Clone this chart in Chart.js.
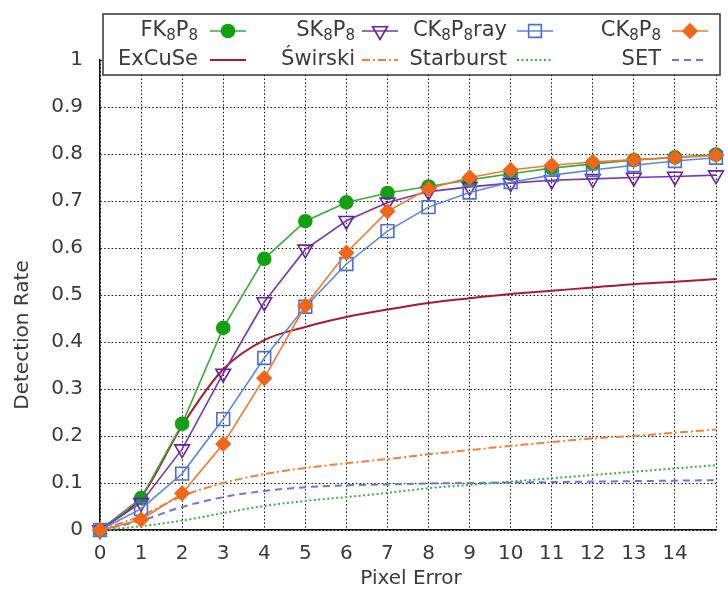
<!DOCTYPE html>
<html lang="en">
<head>
  <meta charset="utf-8" />
  <title>Detection Rate vs Pixel Error</title>
  <script src="https://cdn.jsdelivr.net/npm/chart.js"></script>
  <style>
    html, body { margin: 0; background: #fff; }
    #wrap { width: 728px; height: 590px; }
  </style>
</head>
<body>
  <div id="wrap"><canvas id="rate"></canvas></div>

  <script>
    // pixel error thresholds (x) and detection rate per method (y)
    const pixelError = [0, 1, 2, 3, 4, 5, 6, 7, 8, 9, 10, 11, 12, 13, 14, 15];
    const fk8p8     = [0, 0.068, 0.226, 0.430, 0.577, 0.657, 0.697, 0.717, 0.731, 0.745, 0.758, 0.770, 0.779, 0.787, 0.793, 0.799];
    const sk8p8     = [0, 0.058, 0.172, 0.333, 0.485, 0.597, 0.658, 0.697, 0.720, 0.730, 0.738, 0.744, 0.747, 0.750, 0.752, 0.755];
    const ck8p8ray  = [0, 0.045, 0.120, 0.236, 0.366, 0.475, 0.566, 0.636, 0.687, 0.718, 0.740, 0.755, 0.766, 0.776, 0.785, 0.792];
    const ck8p8     = [0, 0.022, 0.078, 0.183, 0.323, 0.477, 0.590, 0.678, 0.726, 0.750, 0.766, 0.776, 0.783, 0.788, 0.792, 0.797];
    const excuse    = [0, 0.070, 0.222, 0.342, 0.404, 0.432, 0.453, 0.469, 0.483, 0.493, 0.502, 0.509, 0.516, 0.523, 0.528, 0.534];
    const swirski   = [0, 0.030, 0.072, 0.100, 0.119, 0.132, 0.142, 0.151, 0.161, 0.170, 0.179, 0.187, 0.195, 0.200, 0.207, 0.214];
    const starburst = [0, 0.008, 0.020, 0.036, 0.051, 0.062, 0.070, 0.079, 0.089, 0.096, 0.103, 0.110, 0.117, 0.124, 0.131, 0.138];
    const setRate   = [0, 0.020, 0.049, 0.070, 0.083, 0.091, 0.095, 0.097, 0.099, 0.100, 0.101, 0.102, 0.103, 0.104, 0.105, 0.106];

    const FONT = '"DejaVu Sans", sans-serif';
    const pts = ys => pixelError.map((x, i) => ({ x, y: ys[i] }));

    // marker series are straight segments, plain curves are smoothed
    const series = [
      { label: 'FK_8P_8', data: fk8p8, line: '#38ad38', mark: '#13a013', style: 'circle', r: 6.5, fill: true, order: 4 },
      { label: 'SK_8P_8', data: sk8p8, line: '#7a35b0', mark: '#6a1fa6', style: 'triangle', rot: 180, r: 8.5, fill: false, order: 3 },
      { label: 'CK_8P_8ray', data: ck8p8ray, line: '#5b86e0', mark: '#4a6fd6', style: 'rect', r: 9, fill: false, order: 2 },
      { label: 'CK_8P_8', data: ck8p8, line: '#f07a30', mark: '#f0661a', style: 'rectRot', r: 7, fill: true, order: 1 },
      { label: 'ExCuSe', data: excuse, line: '#a51c30', width: 2, order: 5 },
      { label: 'Świrski', data: swirski, line: '#f0813a', width: 2, dash: [8, 3, 2, 3], order: 6 },
      { label: 'Starburst', data: starburst, line: '#3cb043', width: 2, dash: [2, 2.5], order: 7 },
      { label: 'SET', data: setRate, line: '#6678d8', width: 2, dash: [7, 5], order: 8 }
    ];

    const datasets = series.map(s => ({
      label: s.label,
      data: pts(s.data),
      order: s.order,
      borderColor: s.line,
      borderWidth: s.width || 1.6,
      borderDash: s.dash || [],
      cubicInterpolationMode: s.style ? 'default' : 'monotone',
      tension: 0,
      pointStyle: s.style || false,
      pointRotation: s.rot || 0,
      pointRadius: s.style ? s.r : 0,
      pointBorderColor: s.mark,
      pointBackgroundColor: s.fill ? s.mark : 'rgba(0,0,0,0)',
      pointBorderWidth: 1.6,
      clip: false
    }));

    // text with "_8" parts drawn as subscripts, right aligned at x
    function richText(ctx, text, xRight, y) {
      const parts = text.split(/(_\d)/).filter(Boolean).map(p =>
        p[0] === '_' ? { t: p.slice(1), sub: true } : { t: p, sub: false });
      let w = 0;
      parts.forEach(p => {
        ctx.font = (p.sub ? '15px ' : '21px ') + FONT;
        p.w = ctx.measureText(p.t).width;
        w += p.w;
      });
      let x = xRight - w;
      parts.forEach(p => {
        ctx.font = (p.sub ? '15px ' : '21px ') + FONT;
        ctx.fillText(p.t, x, p.sub ? y + 5 : y);
        x += p.w;
      });
    }

    const keyBox = {
      id: 'keyBox',
      afterDraw(chart) {
        const ctx = chart.ctx;
        ctx.save();
        ctx.fillStyle = '#fff';
        ctx.fillRect(103, 14, 617, 61);
        ctx.strokeStyle = '#333';
        ctx.lineWidth = 1.5;
        ctx.strokeRect(103, 14, 617, 61);

        const textRight = [198, 355, 507, 661];
        const sampleX = [210, 362, 517, 672];
        const rowY = [31, 60];
        ctx.textBaseline = 'middle';
        ctx.textAlign = 'left';
        series.forEach((s, i) => {
          const col = i % 4, y = rowY[Math.floor(i / 4)];
          ctx.fillStyle = '#3a3a3a';
          richText(ctx, s.label, textRight[col], y);
          ctx.save();
          ctx.strokeStyle = s.line;
          ctx.lineWidth = s.width || 1.6;
          ctx.setLineDash(s.dash || []);
          ctx.beginPath();
          ctx.moveTo(sampleX[col], y);
          ctx.lineTo(sampleX[col] + 36, y);
          ctx.stroke();
          ctx.restore();
          if (s.style) {
            ctx.save();
            ctx.strokeStyle = s.mark;
            ctx.fillStyle = s.fill ? s.mark : 'rgba(0,0,0,0)';
            ctx.lineWidth = 1.6;
            Chart.helpers.drawPoint(ctx, { pointStyle: s.style, radius: s.r, rotation: s.rot || 0, borderWidth: 1.6 },
              sampleX[col] + 18, y);
            ctx.restore();
          }
        });

        // axis titles
        ctx.fillStyle = '#3a3a3a';
        ctx.font = '20px ' + FONT;
        ctx.textAlign = 'center';
        ctx.fillText('Pixel Error', 411, 579);
        ctx.translate(23, 335);
        ctx.rotate(-Math.PI / 2);
        ctx.fillText('Detection Rate', 0, 0);
        ctx.restore();
      }
    };

    const gridLook = {
      display: true,
      color: '#111',
      lineWidth: 1,
      drawTicks: false
    };

    new Chart(document.getElementById('rate'), {
      type: 'line',
      data: { datasets },
      plugins: [keyBox],
      options: {
        responsive: true,
        maintainAspectRatio: false,
        animation: false,
        layout: { padding: { top: 60, right: 5, left: 0, bottom: 0 } },
        plugins: { legend: { display: false }, tooltip: { enabled: false } },
        scales: {
          x: {
            type: 'linear',
            min: 0,
            max: 15,
            afterFit: s => { s.height = 60; },
            grid: gridLook,
            border: { display: true, color: '#111', width: 1.5, dash: [1.5, 2.2] },
            ticks: {
              stepSize: 1,
              autoSkip: false,
              maxRotation: 0,
              padding: 12,
              color: '#3a3a3a',
              font: { family: FONT, size: 20 },
              callback: v => (v === 15 ? '' : String(v))
            }
          },
          y: {
            min: 0,
            max: 1,
            afterFit: s => { s.width = 100; },
            grid: gridLook,
            border: { display: true, color: '#111', width: 1.5, dash: [1.5, 2.2] },
            ticks: {
              stepSize: 0.1,
              padding: 17,
              color: '#3a3a3a',
              font: { family: FONT, size: 20 },
              callback: v => String(+v.toFixed(1))
            }
          }
        }
      }
    });
  </script>
</body>
</html>
